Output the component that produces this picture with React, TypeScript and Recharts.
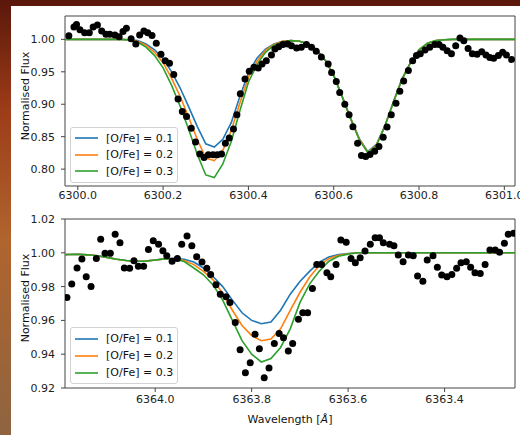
import { ComposedChart, Line, Scatter, XAxis, YAxis, ReferenceArea, Legend } from 'recharts';

const FONT = '"DejaVu Sans", Verdana, sans-serif';

const SERIES_NAMES = ['[O/Fe] = 0.1', '[O/Fe] = 0.2', '[O/Fe] = 0.3'];
const SERIES_COLORS = ['#1f77b4', '#ff7f0e', '#2ca02c'];

// ---- top panel: [O I] 6300 region ----
const TOP_X_TICKS = [6300.0, 6300.2, 6300.4, 6300.6, 6300.8, 6301.0];
const TOP_Y_TICKS = [0.8, 0.85, 0.9, 0.95, 1.0];

const TOP_OBS_WL = [
  6299.979, 6299.991, 6299.997, 6300.005, 6300.016, 6300.027, 6300.036, 6300.046, 6300.056, 6300.066,
  6300.075, 6300.087, 6300.097, 6300.106, 6300.114, 6300.125, 6300.136, 6300.145, 6300.155, 6300.164,
  6300.174, 6300.184, 6300.195, 6300.205, 6300.215, 6300.225, 6300.235, 6300.245, 6300.255, 6300.266,
  6300.276, 6300.286, 6300.296, 6300.306, 6300.317, 6300.327, 6300.337, 6300.346, 6300.355, 6300.365,
  6300.373, 6300.381, 6300.392, 6300.402, 6300.413, 6300.423, 6300.432, 6300.442, 6300.454, 6300.462,
  6300.471, 6300.481, 6300.492, 6300.501, 6300.513, 6300.524, 6300.536, 6300.548, 6300.559, 6300.571,
  6300.587, 6300.595, 6300.606, 6300.614, 6300.626, 6300.636, 6300.645, 6300.656, 6300.665, 6300.675,
  6300.685, 6300.696, 6300.706, 6300.716, 6300.725, 6300.735, 6300.746, 6300.755, 6300.764, 6300.775,
  6300.785, 6300.794, 6300.803, 6300.814, 6300.825, 6300.837, 6300.847, 6300.856, 6300.866, 6300.876,
  6300.886, 6300.896, 6300.905, 6300.915, 6300.925, 6300.936, 6300.947, 6300.957, 6300.966, 6300.975,
  6300.986, 6300.996, 6301.005, 6301.017,
];
const TOP_OBS_FLUX = [
  1.0055, 1.019, 1.023, 1.015, 1.01, 1.01, 1.019, 1.022, 1.013, 1.008,
  1.008, 1.0066, 1.004, 1.012, 1.017, 1.001, 0.993, 1.0066, 1.013, 1.01,
  1.006, 0.994, 0.977, 0.967, 0.963, 0.946, 0.908, 0.889, 0.881, 0.863,
  0.842, 0.8235, 0.818, 0.822, 0.822, 0.822, 0.8235, 0.84, 0.848, 0.862,
  0.884, 0.916, 0.939, 0.951, 0.957, 0.956, 0.962, 0.967, 0.976, 0.985,
  0.9886, 0.992, 0.993, 0.99, 0.9866, 0.988, 0.992, 0.988, 0.9815, 0.973,
  0.962, 0.949, 0.935, 0.918, 0.9, 0.884, 0.8655, 0.84, 0.821, 0.8194,
  0.8225, 0.8277, 0.835, 0.849, 0.865, 0.884, 0.9015, 0.92, 0.936, 0.952,
  0.967, 0.975, 0.978, 0.9835, 0.988, 0.992, 0.992, 0.988, 0.9825, 0.978,
  0.99, 1.002, 0.998, 0.986, 0.978, 0.977, 0.981, 0.976, 0.972, 0.971,
  0.975, 0.98, 0.976, 0.969,
];

const TOP_MODEL_WL = [
  6299.96, 6299.98, 6300.0, 6300.02, 6300.04, 6300.06, 6300.08, 6300.1,
  6300.12, 6300.14, 6300.16, 6300.18, 6300.2, 6300.22, 6300.24, 6300.26, 6300.28, 6300.3,
  6300.32, 6300.34, 6300.36, 6300.38, 6300.4, 6300.42, 6300.44, 6300.46, 6300.48, 6300.5,
  6300.52, 6300.54, 6300.56, 6300.58, 6300.6, 6300.62, 6300.64, 6300.66, 6300.68, 6300.7,
  6300.72, 6300.74, 6300.76, 6300.78, 6300.8, 6300.82, 6300.84, 6300.86,
  6300.88, 6300.9, 6300.92, 6300.94, 6300.96, 6300.98, 6301.0, 6301.02, 6301.04,
];
const TOP_MODEL_01 = [
  1, 1, 1, 1, 1, 1, 1, 1,
  0.9995, 0.998, 0.993, 0.984, 0.97, 0.95, 0.925, 0.896, 0.866, 0.839,
  0.834, 0.846, 0.872, 0.912, 0.948, 0.971, 0.985, 0.993, 0.997, 0.998,
  0.997, 0.993, 0.984, 0.968, 0.945, 0.912, 0.878, 0.847, 0.827, 0.838,
  0.867, 0.904, 0.939, 0.964, 0.984, 0.994, 0.998, 0.9995,
  1, 1, 1, 1, 1, 1, 1, 1, 1,
];
const TOP_MODEL_02 = [
  1, 1, 1, 1, 1, 1, 1, 1,
  0.9993, 0.997, 0.991, 0.98, 0.964, 0.94, 0.912, 0.88, 0.846, 0.817,
  0.813, 0.829, 0.86, 0.902, 0.942, 0.966, 0.983, 0.992, 0.997, 0.998,
  0.997, 0.993, 0.984, 0.968, 0.9445, 0.9115, 0.8775, 0.846, 0.826, 0.837,
  0.8665, 0.9035, 0.9385, 0.964, 0.984, 0.994, 0.998, 0.9995,
  1, 1, 1, 1, 1, 1, 1, 1, 1,
];
const TOP_MODEL_03 = [
  1, 1, 1, 1, 1, 1, 1, 1,
  0.999, 0.996, 0.988, 0.975, 0.956, 0.929, 0.897, 0.861, 0.823, 0.791,
  0.787, 0.808, 0.843, 0.89, 0.934, 0.961, 0.98, 0.991, 0.996, 0.998,
  0.997, 0.993, 0.984, 0.968, 0.944, 0.911, 0.877, 0.845, 0.825, 0.836,
  0.866, 0.903, 0.938, 0.964, 0.984, 0.994, 0.998, 0.9995,
  1, 1, 1, 1, 1, 1, 1, 1, 1,
];

// ---- bottom panel: [O I] 6363 region (wavelength axis reversed) ----
const BOT_X_TICKS = [6364.0, 6363.8, 6363.6, 6363.4];
const BOT_Y_TICKS = [0.92, 0.94, 0.96, 0.98, 1.0, 1.02];

const BOT_OBS_WL = [
  6364.183, 6364.173, 6364.162, 6364.152, 6364.143, 6364.133, 6364.122, 6364.113, 6364.104, 6364.093,
  6364.083, 6364.073, 6364.064, 6364.053, 6364.044, 6364.035, 6364.024, 6364.014, 6364.004, 6363.993,
  6363.984, 6363.976, 6363.965, 6363.954, 6363.945, 6363.934, 6363.924, 6363.914, 6363.903, 6363.893,
  6363.885, 6363.874, 6363.865, 6363.853, 6363.845, 6363.834, 6363.824, 6363.813, 6363.803, 6363.793,
  6363.784, 6363.774, 6363.764, 6363.753, 6363.743, 6363.734, 6363.724, 6363.715, 6363.703, 6363.694,
  6363.684, 6363.674, 6363.665, 6363.655, 6363.644, 6363.636, 6363.625, 6363.615, 6363.604, 6363.594,
  6363.585, 6363.575, 6363.565, 6363.554, 6363.544, 6363.535, 6363.527, 6363.514, 6363.505, 6363.496,
  6363.486, 6363.475, 6363.465, 6363.456, 6363.445, 6363.436, 6363.424, 6363.415, 6363.406, 6363.395,
  6363.385, 6363.375, 6363.366, 6363.355, 6363.346, 6363.337, 6363.326, 6363.316, 6363.306, 6363.295,
  6363.286, 6363.276, 6363.268, 6363.257,
];
const BOT_OBS_FLUX = [
  0.9736, 0.9815, 0.991, 0.9963, 0.9858, 0.98, 0.9967, 1.008, 0.9997, 0.9997,
  1.011, 1.006, 0.991, 0.9908, 0.9953, 0.992, 0.992, 1.002, 1.0071, 1.005,
  1.0012, 0.9983, 0.995, 0.9967, 1.005, 1.01, 1.0042, 0.9977, 0.9945, 0.9908,
  0.9872, 0.9811, 0.9754, 0.974, 0.9706, 0.9588, 0.9427, 0.929, 0.935, 0.9518,
  0.9432, 0.926, 0.9319, 0.9463, 0.9522, 0.9497, 0.9419, 0.9463, 0.9607, 0.9645,
  0.9645, 0.9789, 0.9931, 0.9931, 0.9882, 0.9858, 0.9931, 1.0076, 1.0062, 0.9967,
  0.9941, 0.997, 1.001, 1.005, 1.0089, 1.0089, 1.006, 1.005, 1.0042, 0.9987,
  0.9947, 0.9987, 0.9983, 0.9862, 0.9832, 0.9957, 0.9983, 0.9914, 0.9868, 0.9858,
  0.9872, 0.9908, 0.9941, 0.9947, 0.9914, 0.9882, 0.9878, 0.9931, 1.0016, 1.0016,
  1.0003, 1.0056, 1.011, 1.0115,
];

const BOT_MODEL_WL = [
  6364.2, 6364.18, 6364.16, 6364.14, 6364.12, 6364.1, 6364.08, 6364.06, 6364.04, 6364.02,
  6364.0, 6363.98, 6363.96, 6363.94, 6363.92, 6363.9, 6363.88, 6363.86, 6363.84, 6363.82,
  6363.8, 6363.78, 6363.76, 6363.74, 6363.72, 6363.7, 6363.68, 6363.66, 6363.64, 6363.62,
  6363.6, 6363.58, 6363.56, 6363.54, 6363.52, 6363.5, 6363.48, 6363.46, 6363.44, 6363.42,
  6363.4, 6363.38, 6363.36, 6363.34, 6363.32, 6363.3, 6363.28, 6363.26, 6363.24,
];
const BOT_MODEL_01 = [
  0.9988, 0.999, 0.9991, 0.9988, 0.9983, 0.9973, 0.9962, 0.9954, 0.995, 0.9951,
  0.9957, 0.9964, 0.9968, 0.9962, 0.9945, 0.991, 0.986, 0.98, 0.972, 0.9645,
  0.96, 0.958, 0.959, 0.966, 0.9755, 0.983, 0.989, 0.9945, 0.9975, 0.999,
  0.9996, 1, 1, 1, 1, 1, 1, 1, 1, 1,
  1, 1, 1, 1, 1, 1, 1, 1, 1,
];
const BOT_MODEL_02 = [
  0.9988, 0.999, 0.9991, 0.9988, 0.9983, 0.9973, 0.9962, 0.9954, 0.995, 0.9951,
  0.9957, 0.9964, 0.9966, 0.9955, 0.993, 0.989, 0.984, 0.976, 0.966, 0.957,
  0.951, 0.948, 0.949, 0.955, 0.966, 0.9765, 0.9855, 0.9925, 0.9965, 0.9985,
  0.9994, 1, 1, 1, 1, 1, 1, 1, 1, 1,
  1, 1, 1, 1, 1, 1, 1, 1, 1,
];
const BOT_MODEL_03 = [
  0.9988, 0.999, 0.9991, 0.9988, 0.9983, 0.9973, 0.9962, 0.9954, 0.995, 0.9951,
  0.9957, 0.9964, 0.9964, 0.9948, 0.991, 0.987, 0.981, 0.972, 0.96, 0.948,
  0.94, 0.9354, 0.9374, 0.944, 0.955, 0.9705, 0.9815, 0.989, 0.995, 0.998,
  0.9992, 1, 1, 1, 1, 1, 1, 1, 1, 1,
  1, 1, 1, 1, 1, 1, 1, 1, 1,
];

const pairs = (xs: number[], ys: number[]) => xs.map((x, i) => ({ x, y: ys[i] }));

const topObs = pairs(TOP_OBS_WL, TOP_OBS_FLUX);
const topModels = [TOP_MODEL_01, TOP_MODEL_02, TOP_MODEL_03].map((m) => pairs(TOP_MODEL_WL, m));
const botObs = pairs(BOT_OBS_WL, BOT_OBS_FLUX);
const botModels = [BOT_MODEL_01, BOT_MODEL_02, BOT_MODEL_03].map((m) => pairs(BOT_MODEL_WL, m));

const tickStyle = { fontSize: 11, fontFamily: FONT, fill: '#222' };
const dot = (p: any) => <circle cx={p.cx} cy={p.cy} r={3.5} fill="#000" />;

const legendContent = (rowH: number) => () => (
  <div
    style={{
      border: '1px solid #d2d2d2',
      borderRadius: 3,
      background: 'rgba(255,255,255,0.85)',
      padding: '2px 4px 2px 4px',
      fontFamily: FONT,
      fontSize: 11,
      color: '#111',
    }}
  >
    {SERIES_NAMES.map((name, i) => (
      <div key={name} style={{ display: 'flex', alignItems: 'center', height: rowH }}>
        <svg width={23} height={4} style={{ marginRight: 8 }}>
          <line x1={0} y1={2} x2={23} y2={2} stroke={SERIES_COLORS[i]} strokeWidth={1.6} />
        </svg>
        <span>{name}</span>
      </div>
    ))}
  </div>
);

const yLabel = (cy: number) => () => (
  <text
    x={25}
    y={cy}
    transform={`rotate(-90 25 ${cy})`}
    textAnchor="middle"
    dominantBaseline="central"
    fontSize={11}
    fontFamily={FONT}
    fill="#111"
  >
    Normalised Flux
  </text>
);

const xLabel = () => (
  <text x={290} y={219} textAnchor="middle" dominantBaseline="central" fontSize={11} fontFamily={FONT} fill="#111">
    Wavelength [<tspan fontStyle="italic">Å</tspan>]
  </text>
);

const TopPanel = () => {
  const xd: [number, number] = [6299.97, 6301.025];
  const yd: [number, number] = [0.774, 1.036];
  return (
    <ComposedChart width={520} height={210} margin={{ top: 16, right: 5, bottom: 0, left: 0 }}>
      <XAxis
        type="number"
        dataKey="x"
        domain={xd}
        allowDataOverflow
        ticks={TOP_X_TICKS}
        tickFormatter={(v: number) => v.toFixed(1)}
        height={24}
        tickSize={4}
        tickMargin={1}
        axisLine={false}
        tickLine={{ stroke: '#444' }}
        tick={tickStyle}
      />
      <YAxis
        type="number"
        dataKey="y"
        domain={yd}
        allowDataOverflow
        ticks={TOP_Y_TICKS}
        tickFormatter={(v: number) => v.toFixed(2)}
        width={65}
        tickSize={4}
        tickMargin={6}
        axisLine={false}
        tickLine={{ stroke: '#444' }}
        tick={tickStyle}
        label={{ content: yLabel(96) }}
      />
      {topModels.map((d, i) => (
        <Line
          key={SERIES_NAMES[i]}
          data={d}
          dataKey="y"
          name={SERIES_NAMES[i]}
          type="linear"
          stroke={SERIES_COLORS[i]}
          strokeWidth={1.6}
          dot={false}
          activeDot={false}
          isAnimationActive={false}
        />
      ))}
      <Scatter data={topObs} dataKey="y" fill="#000" shape={dot} isAnimationActive={false} />
      <ReferenceArea x1={xd[0]} x2={xd[1]} y1={yd[0]} y2={yd[1]} fill="none" stroke="#444" strokeWidth={1} ifOverflow="visible" />
      <Legend
        layout="vertical"
        align="center"
        verticalAlign="middle"
        content={legendContent(16.5)}
        wrapperStyle={{ position: 'absolute', left: 70, top: 127, width: 'auto', height: 'auto' }}
      />
    </ComposedChart>
  );
};

const BottomPanel = () => {
  const xd: [number, number] = [6363.254, 6364.187];
  const yd: [number, number] = [0.92, 1.02];
  return (
    <ComposedChart width={520} height={235} margin={{ top: 19, right: 5, bottom: 0, left: 0 }}>
      <XAxis
        type="number"
        dataKey="x"
        reversed
        domain={xd}
        allowDataOverflow
        ticks={BOT_X_TICKS}
        tickFormatter={(v: number) => v.toFixed(1)}
        height={47}
        tickSize={4}
        tickMargin={3}
        axisLine={false}
        tickLine={{ stroke: '#444' }}
        tick={tickStyle}
        label={{ content: xLabel }}
      />
      <YAxis
        type="number"
        dataKey="y"
        domain={yd}
        allowDataOverflow
        ticks={BOT_Y_TICKS}
        tickFormatter={(v: number) => v.toFixed(2)}
        width={65}
        tickSize={4}
        tickMargin={6}
        axisLine={false}
        tickLine={{ stroke: '#444' }}
        tick={tickStyle}
        label={{ content: yLabel(98) }}
      />
      {botModels.map((d, i) => (
        <Line
          key={SERIES_NAMES[i]}
          data={d}
          dataKey="y"
          name={SERIES_NAMES[i]}
          type="linear"
          stroke={SERIES_COLORS[i]}
          strokeWidth={1.6}
          dot={false}
          activeDot={false}
          isAnimationActive={false}
        />
      ))}
      <Scatter data={botObs} dataKey="y" fill="#000" shape={dot} isAnimationActive={false} />
      <ReferenceArea x1={xd[0]} x2={xd[1]} y1={yd[0]} y2={yd[1]} fill="none" stroke="#444" strokeWidth={1} ifOverflow="visible" />
      <Legend
        layout="vertical"
        align="center"
        verticalAlign="middle"
        content={legendContent(17)}
        wrapperStyle={{ position: 'absolute', left: 70, top: 127, width: 'auto', height: 'auto' }}
      />
    </ComposedChart>
  );
};

export default function App() {
  return (
    <div
      style={{
        position: 'absolute',
        left: 0,
        top: 0,
        width: 520,
        height: 435,
        overflow: 'hidden',
        background: 'linear-gradient(180deg, #5a170b 0%, #9c3c18 25%, #b0642e 55%, #8e6440 100%)',
      }}
    >
      <div style={{ position: 'absolute', left: 11, top: 6, right: 0, bottom: 0, background: '#fff' }} />
      <div style={{ position: 'absolute', left: 0, top: 0 }}>
        <TopPanel />
      </div>
      <div style={{ position: 'absolute', left: 0, top: 200 }}>
        <BottomPanel />
      </div>
    </div>
  );
}
